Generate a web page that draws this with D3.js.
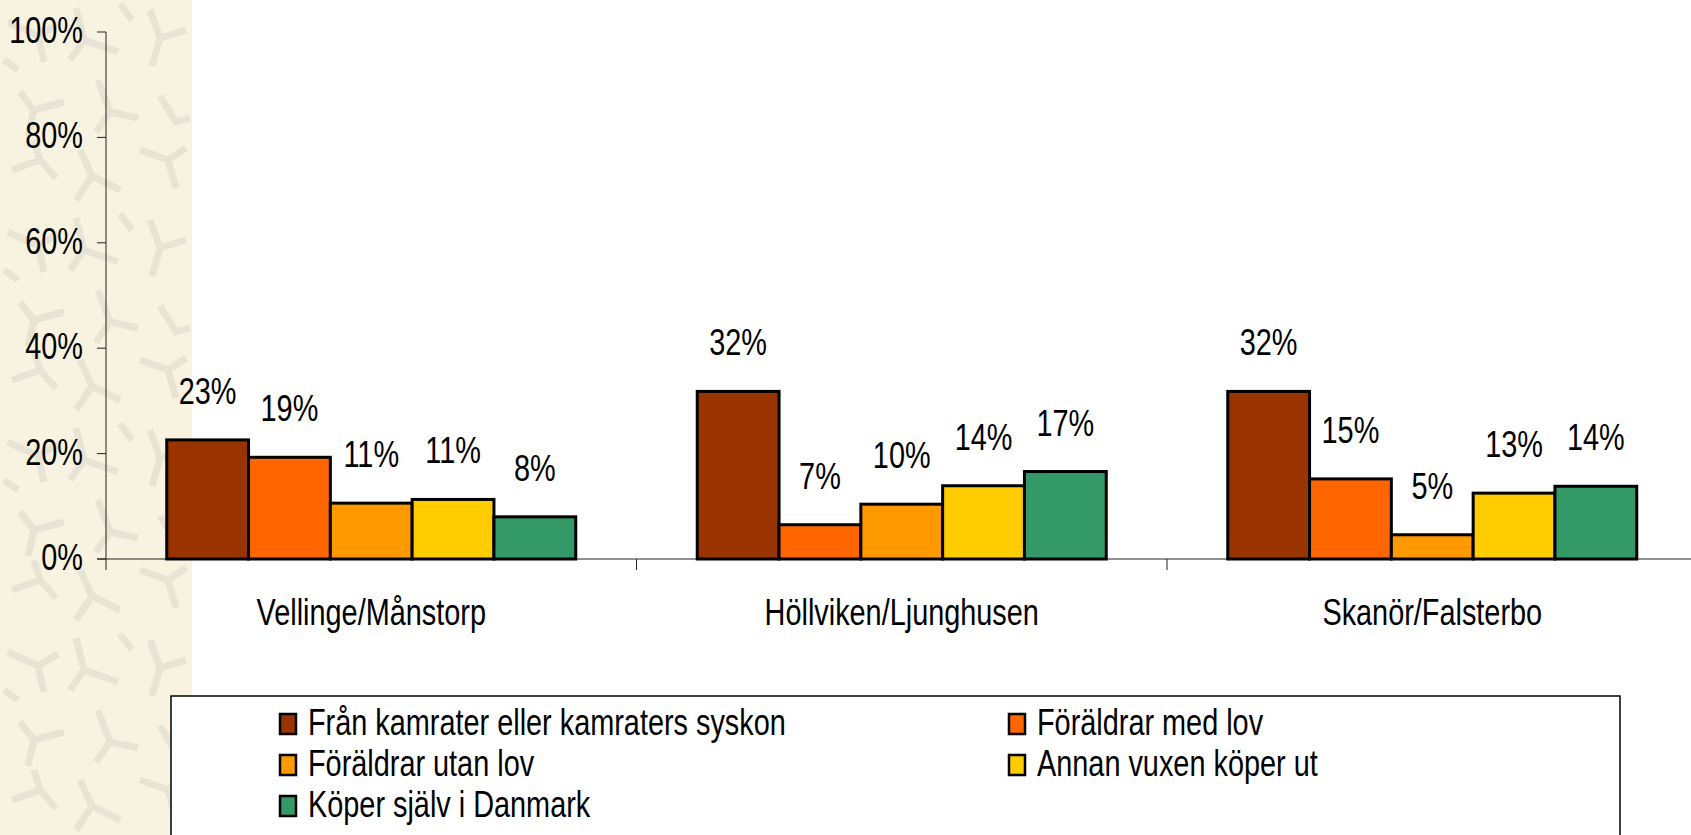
<!DOCTYPE html>
<head>
<style type="text/css">
    body {
      font-family: "Liberation Sans", Arial, sans-serif;
      margin: 0;
      background: #fff;
    }
</style>
</head>
<script src="https://d3js.org/d3.v7.min.js"></script>
<body>
    <svg width="1691" height="835"></svg>
    <script>
        // data
        var categories = ["Vellinge/Månstorp", "Höllviken/Ljunghusen", "Skanör/Falsterbo"];
        var series = ["Från kamrater eller kamraters syskon", "Föräldrar med lov", "Föräldrar utan lov",
                      "Annan vuxen köper ut", "Köper själv i Danmark"];
        var colors = ["#993300", "#ff6600", "#ff9900", "#ffcc00", "#339966"];
        // one array per series, values per category (%)
        var fromFriends    = [22.6, 31.8, 31.8];
        var parentsWith    = [19.3, 6.5, 15.2];
        var parentsWithout = [10.6, 10.4, 4.6];
        var otherAdult     = [11.3, 13.9, 12.5];
        var selfDenmark    = [8.0, 16.6, 13.8];
        var yTicks = [0, 20, 40, 60, 80, 100];

        var values = [fromFriends, parentsWith, parentsWithout, otherAdult, selfDenmark];

        var width = 1691,
            height = 835,
            sx = 0.78,      // narrow text look
            fs = 37;

        var svg = d3.select("svg");

        // textured strip on the left
        var defs = svg.append("defs");
        var pat = defs.append("pattern")
            .attr("id", "tex")
            .attr("patternUnits", "userSpaceOnUse")
            .attr("width", 192).attr("height", 210);
        pat.append("rect").attr("width", 192).attr("height", 210).attr("fill", "#f8f3e1");
        pat.append("path")
            .attr("d", "M8 22L38 36L58 24M38 36L44 62M76 8L84 40L118 52M84 40L70 60" +
                       "M150 10L160 38L186 30M160 38L152 66M20 92L34 110L28 136M34 110L64 102" +
                       "M98 80L110 112L138 118M110 112L96 132M160 96L176 122L190 118" +
                       "M12 170L40 160L56 178M40 160L34 140M80 150L92 176L120 190M92 176L76 200" +
                       "M140 150L168 160L176 188M168 160L186 148M4 60L18 70M120 4L132 20")
            .attr("fill", "none")
            .attr("stroke", "#e7e4d5")
            .attr("stroke-width", 7);
        svg.append("rect")
            .attr("x", 0).attr("y", 0)
            .attr("width", 192).attr("height", height)
            .attr("fill", "url(#tex)");

        var x0 = d3.scaleBand()
            .domain(categories)
            .range([106, 106 + 3 * 530.5]);

        var x1 = d3.scaleBand()
            .domain(series)
            .range([60.75, 469.75]);

        var y = d3.scaleLinear()
            .domain([0, 100])
            .range([559, 32]);

        // y axis
        svg.append("line")
            .attr("x1", 106).attr("x2", 106)
            .attr("y1", y(100)).attr("y2", 570)
            .attr("stroke", "#222").attr("stroke-width", 1);
        svg.selectAll(".ytick")
            .data(yTicks)
            .enter().append("line")
            .attr("x1", 97).attr("x2", 106)
            .attr("y1", function(d) { return y(d); })
            .attr("y2", function(d) { return y(d); })
            .attr("stroke", "#222");
        svg.selectAll(".ylab")
            .data(yTicks)
            .enter().append("text")
            .attr("transform", function(d) { return "translate(83," + (y(d) + 11) + ") scale(" + sx + ",1)"; })
            .attr("text-anchor", "end")
            .style("font-size", fs + "px")
            .text(function(d) { return d + "%"; });

        // x axis
        svg.append("line")
            .attr("x1", 97).attr("x2", width)
            .attr("y1", y(0)).attr("y2", y(0))
            .attr("stroke", "#222");
        svg.selectAll(".xtick")
            .data(categories.slice(1))
            .enter().append("line")
            .attr("x1", function(d) { return x0(d); })
            .attr("x2", function(d) { return x0(d); })
            .attr("y1", y(0)).attr("y2", 570)
            .attr("stroke", "#222");
        svg.selectAll(".xlab")
            .data(categories)
            .enter().append("text")
            .attr("transform", function(d) { return "translate(" + (x0(d) + x0.bandwidth() / 2) + ",625) scale(" + sx + ",1)"; })
            .attr("text-anchor", "middle")
            .style("font-size", fs + "px")
            .text(function(d) { return d; });

        // bars
        var groups = svg.selectAll(".cat")
            .data(categories)
            .enter().append("g")
            .attr("transform", function(d) { return "translate(" + x0(d) + ",0)"; });

        groups.selectAll("rect")
            .data(function(d, ci) { return series.map(function(s, si) { return {s: s, i: si, v: values[si][ci]}; }); })
            .enter().append("rect")
            .attr("x", function(d) { return x1(d.s); })
            .attr("y", function(d) { return y(d.v); })
            .attr("width", x1.bandwidth())
            .attr("height", function(d) { return y(0) - y(d.v); })
            .attr("fill", function(d) { return colors[d.i]; })
            .attr("stroke", "#000")
            .attr("stroke-width", 3);

        groups.selectAll("text")
            .data(function(d, ci) { return series.map(function(s, si) { return {s: s, i: si, v: values[si][ci]}; }); })
            .enter().append("text")
            .attr("transform", function(d) { return "translate(" + (x1(d.s) + x1.bandwidth() / 2) + "," + (y(d.v) - 36) + ") scale(" + sx + ",1)"; })
            .attr("text-anchor", "middle")
            .style("font-size", fs + "px")
            .text(function(d) { return Math.round(d.v) + "%"; });

        // legend
        svg.append("rect")
            .attr("x", 171).attr("y", 696)
            .attr("width", 1449).attr("height", 160)
            .attr("fill", "#fff")
            .attr("stroke", "#000").attr("stroke-width", 1.5);

        var leg = svg.selectAll(".leg")
            .data(series)
            .enter().append("g")
            .attr("transform", function(d, i) {
                return "translate(" + (i % 2 ? 1008 : 279) + "," + (735 + Math.floor(i / 2) * 41) + ")";
            });
        leg.append("rect")
            .attr("x", 1).attr("y", -21)
            .attr("width", 16).attr("height", 20)
            .attr("fill", function(d, i) { return colors[i]; })
            .attr("stroke", "#000").attr("stroke-width", 2.5);
        leg.append("text")
            .attr("transform", "translate(29,0) scale(" + sx + ",1)")
            .style("font-size", fs + "px")
            .text(function(d) { return d; });
    </script>
</body>
